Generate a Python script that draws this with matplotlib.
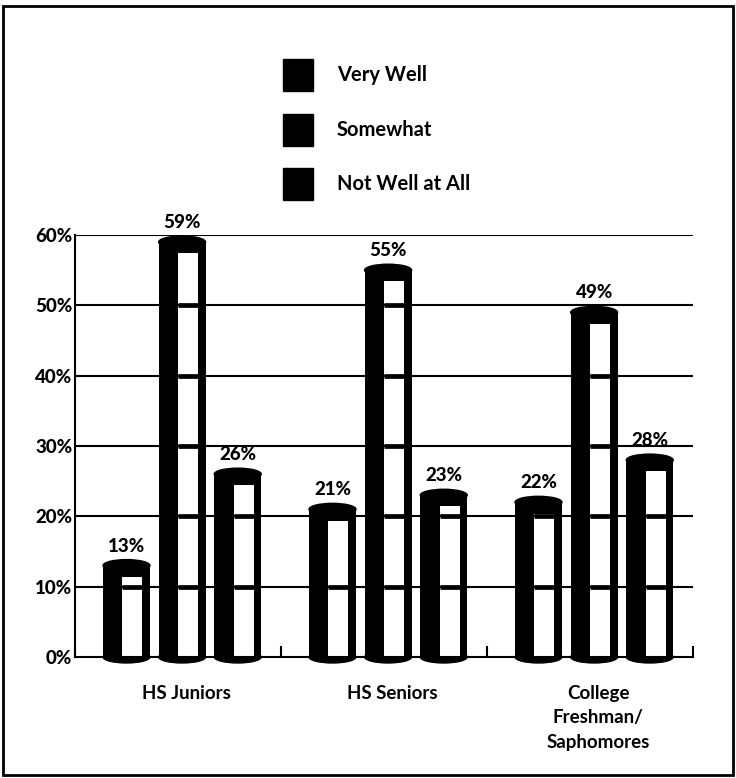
import matplotlib.pyplot as plt
from matplotlib.patches import Ellipse, Rectangle

groups = ['HS Juniors', 'HS Seniors', 'College\nFreshman/\nSaphomores']
series = ['Very Well', 'Somewhat', 'Not Well at All']
very_well = [13, 21, 22]
somewhat = [59, 55, 49]
not_well = [26, 23, 28]
yticks = [0, 10, 20, 30, 40, 50, 60]

plt.rcParams['font.family'] = ['Lato', 'DejaVu Sans']

fig = plt.figure(figsize=(7.36, 7.78), dpi=100)
ax = fig.add_axes([75 / 736, 121 / 778, 618 / 736, 422 / 778])

centers = [0.5, 1.5, 2.5]
offsets = [-0.25, 0.02, 0.29]
width = 0.228
cap_h = 1.7

for vals, off in zip([very_well, somewhat, not_well], offsets):
    xs = [c + off for c in centers]
    bars = ax.bar(xs, vals, width=width, color='black', zorder=1)
    for b, v in zip(bars, vals):
        x0 = b.get_x()
        xc = x0 + width / 2
        # rounded top and bottom of the cylinder
        ax.add_patch(Ellipse((xc, v), width, cap_h, color='black', zorder=1))
        ax.add_patch(Ellipse((xc, 0), width, cap_h, color='black', zorder=1,
                             clip_on=False))
        # white highlight stripe
        hx0 = x0 + 0.41 * width
        hx1 = x0 + 0.84 * width
        top = v - 1.6
        ax.add_patch(Rectangle((hx0, 0.2), hx1 - hx0, top - 0.2,
                               facecolor='white', edgecolor='none', zorder=2))
        for g in yticks[1:]:
            if g < top:
                ax.hlines(g, hx0, hx1, color='black', lw=3.4, zorder=4)
        ax.text(xc, v + 2.0, '%d%%' % v, ha='center', va='baseline',
                fontsize=13.5, fontweight=900, zorder=5)

ax.hlines(yticks[1:], 0, 3, color='black', lw=1.5, zorder=3)

ax.set_xlim(0, 3)
ax.set_ylim(0, 60)
ax.set_yticks(yticks)
ax.set_yticklabels(['%d%%' % t for t in yticks], fontsize=13.5, fontweight=900)
ax.tick_params(axis='y', length=0, pad=2)

ax.set_xticks([0, 1, 2, 3])
ax.set_xticklabels([])
ax.tick_params(axis='x', which='major', direction='in', length=8, width=1.5)
ax.set_xticks([c + 0.04 for c in centers], minor=True)
ax.set_xticklabels(groups, minor=True, fontsize=13.5, fontweight='bold',
                   linespacing=1.55)
ax.tick_params(axis='x', which='minor', length=0, pad=20)

for s in ['top', 'right']:
    ax.spines[s].set_visible(False)
ax.spines['left'].set_linewidth(1.5)
ax.spines['bottom'].set_linewidth(1.5)

# legend
for i, name in enumerate(series):
    ytop = 59 + i * 54.5
    fig.add_artist(Rectangle((283 / 736, 1 - (ytop + 32) / 778), 30 / 736, 32 / 778,
                             transform=fig.transFigure, color='black'))
    fig.text(337 / 736, 1 - (ytop + 16) / 778, name, fontsize=14.5,
             fontweight='bold', va='center', ha='left')

# outer frame
fig.add_artist(Rectangle((3 / 736, 3 / 778), 730 / 736, 769 / 778,
                         transform=fig.transFigure, fill=False,
                         edgecolor='black', lw=2))

fig.savefig('out.png', dpi=100)
